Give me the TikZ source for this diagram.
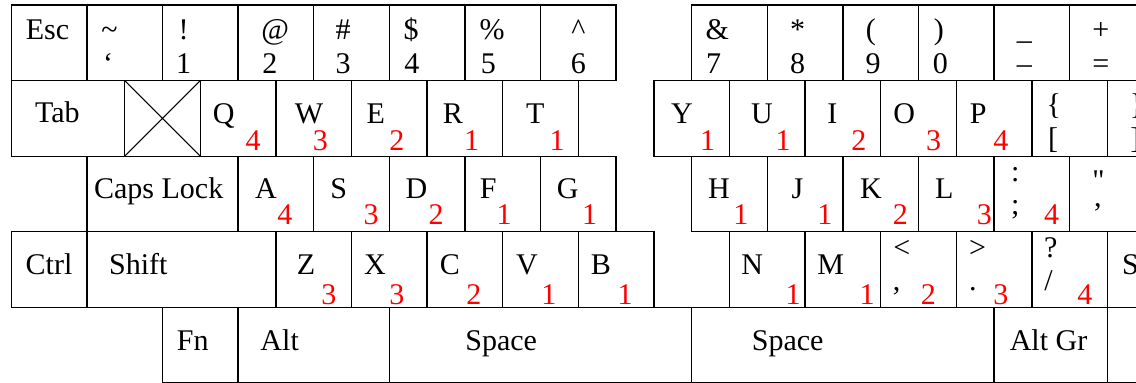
\documentclass[tikz,border=0pt]{standalone}
\usepackage{fontspec}
\setmainfont{Liberation Serif}

\begin{document}
\begin{tikzpicture}[x=1cm, y=1cm,
    keycap/.style={draw, rectangle, line width=0.5pt, anchor=north west, inner sep=0pt, outer sep=0pt, minimum height=1cm, minimum width=#1 cm},
    keycap/.default=1,
    lbl/.style={anchor=base, inner sep=0pt, font=\fontsize{11.3pt}{13.6pt}\selectfont},
    fingernum/.style={lbl, text=red}]
  \useasboundingbox (-0.149,0.066) rectangle (14.877,-5.0);
  \clip (-0.149,0.066) rectangle (14.877,-5.0);

  % key caps, row by row
  \foreach \x/\nm in {0/esc,1/tilde,2/one,3/two,4/three,5/four,6/five,7/six,9/seven,10/eight,11/nine,12/zero,13/minus,14/plus}
    \node[keycap] (\nm) at (\x,0) {};
  \foreach \x/\w/\nm in {0/1.5/tab,1.5/1/xbox,2.5/1/kq,3.5/1/kw,4.5/1/ke,5.5/1/kr,6.5/1/kt,8.5/1/ky,9.5/1/ku,10.5/1/ki,11.5/1/ko,12.5/1/kp,13.5/1/lbrack,14.5/1/rbrack}
    \node[keycap=\w] (\nm) at (\x,-1) {};
  \foreach \x/\w/\nm in {1/2/caps,3/1/ka,4/1/ks,5/1/kd,6/1/kf,7/1/kg,9/1/kh,10/1/kj,11/1/kk,12/1/kl,13/1/semi,14/1/quote}
    \node[keycap=\w] (\nm) at (\x,-2) {};
  \foreach \x/\w/\nm in {0/1/ctrl,1/2.5/lshift,3.5/1/kz,4.5/1/kx,5.5/1/kc,6.5/1/kv,7.5/1/kb,9.5/1/kn,10.5/1/km,11.5/1/comma,12.5/1/period,13.5/1/slash,14.5/2.5/rshift}
    \node[keycap=\w] (\nm) at (\x,-3) {};
  \foreach \x/\w/\nm in {2/1/fn,3/2/lalt,5/4/lspace,9/4/rspace,13/1.5/altgr,14.5/1/rwin}
    \node[keycap=\w] (\nm) at (\x,-4) {};

  % the unused key
  \draw[line width=0.4pt] (xbox.north west) -- (xbox.south east) (xbox.north east) -- (xbox.south west);

  % one-line labels
  \foreach \nm/\txt/\dx/\dy in {esc/Esc/0.48/0.45, tab/Tab/0.61/0.56,
      kq/Q/0.31/0.565, kw/W/0.44/0.565, ke/E/0.32/0.565, kr/R/0.34/0.565, kt/T/0.43/0.565,
      ky/Y/0.37/0.565, ku/U/0.43/0.565, ki/I/0.36/0.565, ko/O/0.31/0.565, kp/P/0.29/0.565,
      caps/Caps Lock/0.95/0.565, ka/A/0.37/0.565, ks/S/0.33/0.565, kd/D/0.36/0.565, kf/F/0.31/0.565, kg/G/0.36/0.565,
      kh/H/0.36/0.565, kj/J/0.40/0.565, kk/K/0.37/0.565, kl/L/0.34/0.565,
      ctrl/Ctrl/0.5/0.56, lshift/Shift/0.68/0.56, kz/Z/0.40/0.565, kx/X/0.31/0.565, kc/C/0.30/0.565, kv/V/0.32/0.565, kb/B/0.30/0.565,
      kn/N/0.30/0.565, km/M/0.34/0.565, rshift/Shift/0.58/0.56,
      fn/Fn/0.40/0.565, lalt/Alt/0.55/0.565, lspace/Space/1.48/0.565, rspace/Space/1.27/0.565, altgr/Alt Gr/0.72/0.565}
    \node[lbl] (\nm-t) at ([shift={(\dx,-\dy)}]\nm.north west) {\txt};

  % two-line labels: upper and lower symbol
  \foreach \nm/\symA/\symB/\ax/\bx/\ay/\by in {
      tilde/\textasciitilde/\textquoteleft/0.30/0.28/0.45/0.90, one/!/1/0.28/0.28/0.45/0.90,
      two/@/2/0.49/0.42/0.45/0.90, three/\#/3/0.39/0.39/0.45/0.90, four/\$/4/0.29/0.30/0.45/0.90,
      five/\%/5/0.36/0.31/0.45/0.90, six/\textasciicircum/6/0.50/0.50/0.45/0.90,
      seven/\&/7/0.34/0.29/0.45/0.90, eight/*/8/0.40/0.40/0.45/0.90, nine/(/9/0.37/0.40/0.45/0.90,
      zero/)/0/0.27/0.29/0.45/0.90, minus/\_/--/0.40/0.40/0.45/0.90, plus/+/=/0.41/0.41/0.45/0.90,
      lbrack/\{/{[}/0.29/0.28/0.45/0.90, rbrack/\}/{]}/0.39/0.37/0.45/0.90,
      quote/\textquotedbl/\textquoteright/0.38/0.37/0.45/0.89,
      semi/:/;/0.28/0.28/0.34/0.77, comma/</{,}/0.28/0.21/0.34/0.77,
      period/>/./0.28/0.22/0.34/0.77, slash/?/{/}/0.25/0.22/0.34/0.77}
  {
    \node[lbl] (\nm-a) at ([shift={(\ax,-\ay)}]\nm.north west) {\symA};
    \node[lbl] (\nm-b) at ([shift={(\bx,-\by)}]\nm.north west) {\symB};
  }

  % finger numbers
  \foreach \nm/\digit/\dx/\dy in {
      kq/4/0.70/0.925, kw/3/0.59/0.925, ke/2/0.60/0.925, kr/1/0.59/0.925, kt/1/0.72/0.925,
      ky/1/0.71/0.925, ku/1/0.71/0.925, ki/2/0.71/0.925, ko/3/0.70/0.925, kp/4/0.59/0.925,
      ka/4/0.62/0.91, ks/3/0.76/0.91, kd/2/0.62/0.91, kf/1/0.52/0.91, kg/1/0.65/0.91,
      kh/1/0.65/0.91, kj/1/0.76/0.91, kk/2/0.76/0.91, kl/3/0.87/0.91, semi/4/0.76/0.91,
      kz/3/0.70/0.96, kx/3/0.60/0.96, kc/2/0.62/0.96, kv/1/0.61/0.96, kb/1/0.62/0.96,
      kn/1/0.84/0.96, km/1/0.82/0.96, comma/2/0.63/0.96, period/3/0.59/0.96, slash/4/0.70/0.96}
    \node[fingernum] (\nm-n) at ([shift={(\dx,-\dy)}]\nm.north west) {\digit};
\end{tikzpicture}
\end{document}
